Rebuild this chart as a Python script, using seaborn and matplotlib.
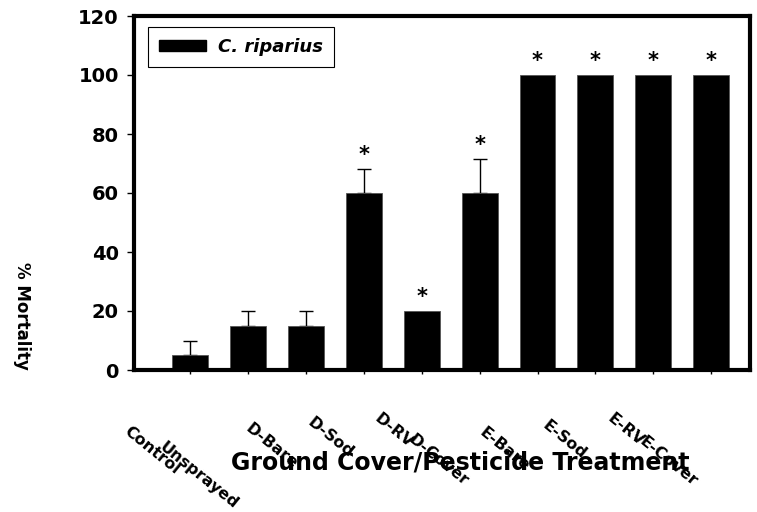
import numpy as np
import pandas as pd
import matplotlib
matplotlib.use("Agg")
import matplotlib.pyplot as plt
import seaborn as sns
from matplotlib.transforms import ScaledTranslation
from matplotlib.patches import Patch

# ---- data ----
treatments = ["Control", "Unsprayed", "D-Bare", "D-Sod", "D-RV", "D-Cover",
              "E-Bare", "E-Sod", "E-RV", "E-Cover"]
mortality = [5, 15, 15, 60, 20, 60, 100, 100, 100, 100]
error_up = [5, 5, 5, 8, 0, 11.5, 0, 0, 0, 0]
significant = [False, False, False, True, True, True, True, True, True, True]
species = "C. riparius"
y_ticks = [0, 20, 40, 60, 80, 100, 120]

df = pd.DataFrame({"Treatment": treatments, "Mortality": mortality, "Species": species})

sns.set_style("ticks")
plt.rcParams["font.family"] = ["DejaVu Sans"]
plt.rcParams["font.weight"] = "bold"
for key in ["text.color", "axes.labelcolor", "xtick.color", "ytick.color", "axes.edgecolor"]:
    plt.rcParams[key] = "black"

fig = plt.figure(figsize=(7.57, 5.12), dpi=100)
ax = fig.add_axes([134 / 757, 1 - 370 / 512, (750 - 134) / 757, (370 - 16) / 512])

sns.barplot(data=df, x="Treatment", y="Mortality", hue="Species", palette=["black"],
            dodge=False, width=0.62, errorbar=None, edgecolor="#555555", linewidth=0.6,
            legend=False, ax=ax, zorder=2)

pos = np.arange(len(treatments))
err = np.array(error_up, dtype=float)
vals = np.array(mortality, dtype=float)
mask = err > 0
ax.errorbar(pos[mask], vals[mask], yerr=[np.zeros(mask.sum()), err[mask]], fmt="none",
            ecolor="black", elinewidth=1, capsize=5, capthick=1, zorder=1)

for i, (v, e, s) in enumerate(zip(vals, err, significant)):
    if s:
        ax.annotate("*", xy=(i, v + e), xytext=(0, 6), textcoords="offset points",
                    ha="center", va="baseline", fontsize=15, fontweight="bold")

ax.set_ylim(0, 120)
ax.set_xlim(-0.97, 9.67)
ax.set_yticks(y_ticks)
ax.set_yticklabels([str(t) for t in y_ticks], fontsize=14, fontweight="bold")

for sp in ax.spines.values():
    sp.set_visible(True)
    sp.set_linewidth(3)
    sp.set_color("black")

ax.tick_params(axis="y", direction="out", length=5, width=1, pad=6, colors="black")
ax.tick_params(axis="x", direction="out", length=3, width=1, pad=0, colors="black")

ax.set_xticks(pos)
ax.set_xticklabels(treatments, rotation=-39, rotation_mode="anchor", ha="left", va="top",
                   fontsize=11.5, fontweight="bold")
label_offsets_px = [(-59, 50), (-82, 65), (-54, 47), (-50, 41), (-41, 37), (-65, 58),
                    (-51, 51), (-46, 44), (-39, 37), (-65, 60)]
for lbl, (dx, dy) in zip(ax.get_xticklabels(), label_offsets_px):
    lbl.set_transform(lbl.get_transform() + ScaledTranslation(dx / 100, -dy / 100, fig.dpi_scale_trans))

ax.set_xlabel("Ground Cover/Pesticide Treatment", fontsize=17, fontweight="bold", va="center")
ax.xaxis.set_label_coords((460 - 134) / 616, -(462 - 370) / 354)
ax.set_ylabel("% Mortality", fontsize=12, fontweight="bold", rotation=-90, va="center", ha="center")
ax.yaxis.set_label_coords((22 - 134) / 616, (370 - 316) / 354)

handles = [Patch(facecolor="black", edgecolor="black")]
leg = ax.legend(handles, [species], loc="upper left",
                bbox_to_anchor=((148 - 134) / 616, (370 - 27) / 354), borderaxespad=0,
                frameon=True, fancybox=False, framealpha=1, edgecolor="black",
                handlelength=2.6, handleheight=0.6, handletextpad=0.7, borderpad=0.6,
                prop={"size": 13, "weight": "bold", "style": "italic"})
leg.get_frame().set_linewidth(0.8)

fig.savefig("out.png", dpi=100)
